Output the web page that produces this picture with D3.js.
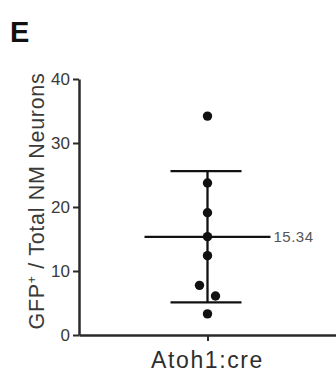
<!DOCTYPE html>
<html>
<head>
<meta charset="utf-8">
<script src="https://cdn.jsdelivr.net/npm/d3@7"></script>
<style>
  body { margin: 0; background: #fff; }
  svg { display: block; font-family: "Liberation Sans", Arial, sans-serif; }
</style>
</head>
<body>
<svg id="chart" width="336" height="372"></svg>
<script>
/******************** data ********************/
var categories = ["Atoh1:cre"];
var values = [34.2, 23.75, 19.1, 15.36, 12.4, 7.76, 6.1, 3.3];
var meanValue = 15.34;
var sdValue = 10.25;
var yTicks = [0, 10, 20, 30, 40];
var yLabel = "GFP";
var panelLetter = "E";

/******************** scales ********************/
var svg = d3.select("#chart");
var y = d3.scaleLinear().domain([0, 40]).range([335, 79]);
var x = d3.scalePoint().domain(categories).range([79, 336]).padding(0.5);
var cx = x(categories[0]);

// panel letter
svg.append("text").attr("x", 10).attr("y", 42)
  .attr("font-size", 29).attr("font-weight", "bold").attr("fill", "#111")
  .text(panelLetter);

// y axis
var yAxis = svg.append("g").attr("transform", "translate(79,0)")
  .call(d3.axisLeft(y).tickValues(yTicks).tickSize(6).tickPadding(3).tickSizeOuter(0));
yAxis.select(".domain").attr("stroke", "#2a2a2a").attr("stroke-width", 2.5);
yAxis.selectAll(".tick line").attr("stroke", "#2a2a2a").attr("stroke-width", 2);
yAxis.selectAll(".tick text").attr("font-size", 17).attr("fill", "#3a3a3a")
  .attr("font-family", "Liberation Sans, Arial, sans-serif");

// x axis
var xAxis = svg.append("g").attr("transform", "translate(0,335)")
  .call(d3.axisBottom(x).tickSize(6).tickSizeOuter(0).tickFormat(""));
xAxis.select(".domain").attr("stroke", "#2a2a2a").attr("stroke-width", 2.5);
xAxis.selectAll(".tick line").attr("stroke", "#2a2a2a").attr("stroke-width", 2);

svg.append("text").attr("x", cx).attr("y", 368)
  .attr("text-anchor", "middle").attr("font-size", 23)
  .attr("letter-spacing", 1.6).attr("fill", "#2e2e2e")
  .text(categories[0]);

// y label
var yl = svg.append("text")
  .attr("transform", "translate(44,201) rotate(-90)")
  .attr("text-anchor", "middle").attr("font-size", 21.5)
  .attr("letter-spacing", 0.7).attr("fill", "#3a3a3a");
yl.append("tspan").text(yLabel);
yl.append("tspan").attr("font-size", 12).attr("dy", -8).text("+");
yl.append("tspan").attr("dy", 8).text(" / Total NM Neurons");

/******************** error bars ********************/
var g = svg.append("g").attr("stroke", "#111").attr("stroke-width", 2.3);
var up = meanValue + sdValue, lo = meanValue - sdValue;
g.append("line").attr("x1", cx).attr("x2", cx).attr("y1", y(up)).attr("y2", y(lo));
g.append("line").attr("x1", cx - 37).attr("x2", cx + 34).attr("y1", y(up)).attr("y2", y(up));
g.append("line").attr("x1", cx - 37).attr("x2", cx + 34).attr("y1", y(lo)).attr("y2", y(lo));
g.append("line").attr("x1", cx - 63).attr("x2", cx + 63).attr("y1", y(meanValue)).attr("y2", y(meanValue));

svg.append("text").attr("x", cx + 66).attr("y", y(meanValue)).attr("dy", "0.35em")
  .attr("font-size", 15).attr("letter-spacing", 0.5).attr("fill", "#555")
  .text(meanValue.toFixed(2));

/******************** points (simple spread when overlapping) ********************/
var sorted = values.slice().sort(function(a, b) { return b - a; });
var pts = [], group = [];
function flush() {
  var n = group.length;
  group.forEach(function(v, i) {
    var off = n > 1 ? (i - (n - 1) / 2) * 16 : 0;
    pts.push({ v: v, dx: off });
  });
  group = [];
}
sorted.forEach(function(v) {
  if (group.length && Math.abs(y(group[group.length - 1]) - y(v)) >= 12) flush();
  group.push(v);
});
flush();

svg.selectAll("circle.pt").data(pts).enter().append("circle")
  .attr("class", "pt")
  .attr("cx", function(d) { return cx + d.dx; })
  .attr("cy", function(d) { return y(d.v); })
  .attr("r", 4.7).attr("fill", "#111");
</script>
</body>
</html>
